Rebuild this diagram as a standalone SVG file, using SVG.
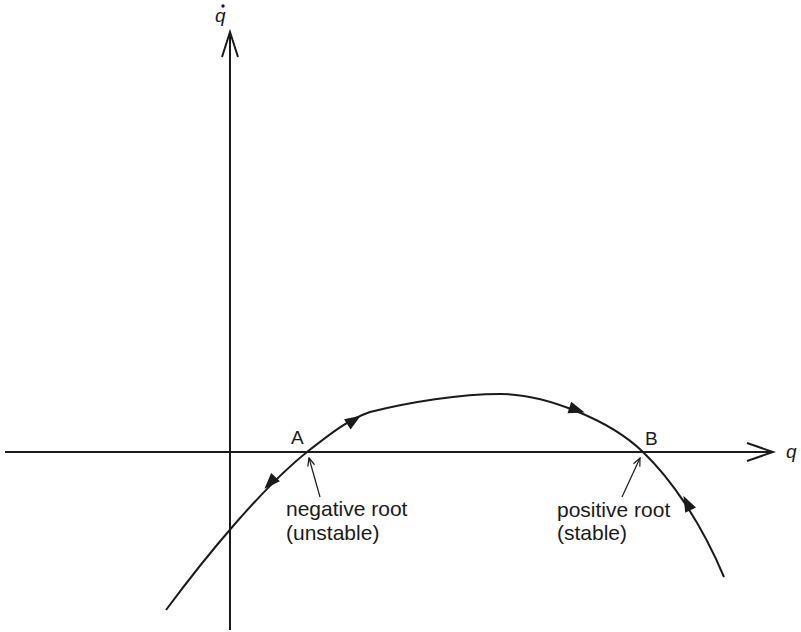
<svg xmlns="http://www.w3.org/2000/svg" width="801" height="632" viewBox="0 0 801 632">
<defs>
<style>
.ax{stroke:#1a1a1a;stroke-width:2;fill:none}
.cv{stroke:#1a1a1a;stroke-width:2;fill:none}
.ah{fill:#1a1a1a}
.ptr{stroke:#1a1a1a;stroke-width:1.2;fill:none}
.t{font-family:"Liberation Sans",Arial,sans-serif;fill:#1a1a1a}
.lbl{font-size:21px}
.pt{font-size:19px}
.var{font-size:19px;font-style:italic}
</style>
<marker id="open" viewBox="0 0 10 10" refX="9" refY="5" markerWidth="10" markerHeight="10" markerUnits="userSpaceOnUse" orient="auto">
<path d="M1,1.5 L9,5 L1,8.5" stroke="#1a1a1a" stroke-width="1.2" fill="none"/>
</marker>
</defs>
<rect width="801" height="632" fill="#fff"/>
<g id="axes">
<path class="ax" d="M5,452 H772 M747,443 L773,452 L747,461"/>
<path class="ax" d="M230,630 V33 M222,57 L230,32 L238,57"/>
<text class="t var" x="786" y="458">q</text>
<text class="t var" x="215" y="22">q</text>
<circle cx="223" cy="6" r="1.7" fill="#1a1a1a"/>
</g>
<g id="connectors">
<path class="cv" d="M166,610 C206,556 262,488 307,452 C335,430 350,419 370,412 C410,402 460,394 500,394 C545,394 610,420 643,452 C670,478 700,520 724,577"/>
<path class="ah" transform="translate(270,483) rotate(133.6)" d="M8,0 L-8,-6 L-8,6 Z"/>
<path class="ah" transform="translate(354,420) rotate(-33)" d="M8,0 L-8,-6 L-8,6 Z"/>
<path class="ah" transform="translate(577,410) rotate(18)" d="M8,0 L-8,-6 L-8,6 Z"/>
<path class="ah" transform="translate(687,503) rotate(-117)" d="M8,0 L-8,-6 L-8,6 Z"/>
<line class="ptr" x1="320" y1="497" x2="309" y2="458" marker-end="url(#open)"/>
<line class="ptr" x1="622" y1="497" x2="640" y2="458" marker-end="url(#open)"/>
</g>
<g id="pointA">
<text class="t pt" x="291" y="444">A</text>
<text class="t lbl" x="286" y="516">negative root</text>
<text class="t lbl" x="286" y="540">(unstable)</text>
</g>
<g id="pointB">
<text class="t pt" x="645" y="445">B</text>
<text class="t lbl" x="557" y="517">positive root</text>
<text class="t lbl" x="557" y="540">(stable)</text>
</g>
</svg>
